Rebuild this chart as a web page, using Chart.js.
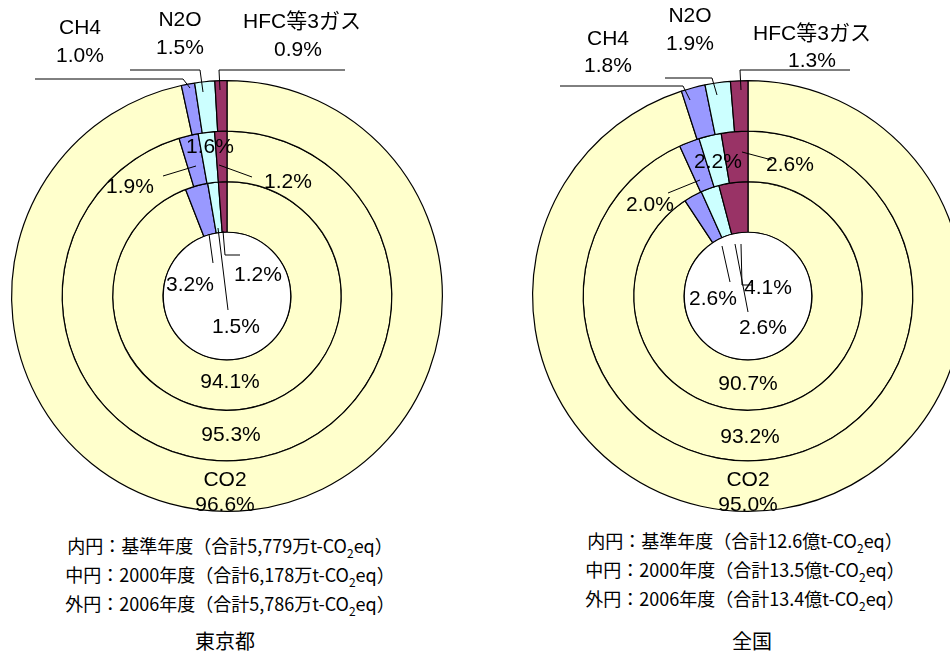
<!DOCTYPE html>
<html><head><meta charset="utf-8">
<script src="https://cdn.jsdelivr.net/npm/chart.js@4"></script>
<style>
body{margin:0;width:950px;height:655px;overflow:hidden;background:#fff;font-family:"Liberation Sans",Arial,"Noto Sans CJK JP",sans-serif;color:#000;position:relative}
canvas{position:absolute}
.t{position:absolute;font-size:21px;transform:translate(-50%,-50%);white-space:nowrap;line-height:1}
.cap{position:absolute;font-size:18px;line-height:1.2;transform:translateX(-50%);white-space:nowrap;font-family:"Noto Sans CJK JP",sans-serif}
.cap sub{font-size:12px}
.ttl{position:absolute;font-size:20px;transform:translate(-50%,-50%);font-family:"Noto Sans CJK JP",sans-serif}
</style></head><body>
<canvas id="tokyo" style="left:7px;top:36px"></canvas>
<canvas id="japan" style="left:528px;top:36px"></canvas>
<script>
// 順序: CO2, CH4, N2O, HFC等3ガス (時計回り)
const gases = ['CO2', 'CH4', 'N2O', 'HFC等3ガス'];
const colors = ['#FFFFCC', '#9999FF', '#CCFFFF', '#993366'];
const tokyo2006 = [96.6, 1.0, 1.5, 0.9];
const tokyo2000 = [95.3, 1.9, 1.6, 1.2];
const tokyoBase = [94.1, 3.2, 1.5, 1.2];
const japan2006 = [95.0, 1.8, 1.9, 1.3];
const japan2000 = [93.2, 2.0, 2.2, 2.6];
const japanBase = [90.7, 2.6, 2.6, 4.1];

// 引き出し線 (ページ座標)
const tokyoLeaders = [
  [[35,79],[183,79],[190,88]], [[130,70],[200,70],[203,92]], [[345,70],[219,70],[220,90]],
  [[163,176],[196,166]], [[252,177],[219,165]],
  [[213,263],[209,234]], [[228,310],[218,228]], [[240,255],[225,255],[223,231]]
];
const japanLeaders = [
  [[560,86],[683,86],[690,100]], [[665,78],[712,78],[717,95]], [[850,70],[740,70],[741,90]],
  [[668,193],[700,180]], [[772,160],[742,152]],
  [[730,282],[722,246]], [[748,312],[735,244]], [[752,285],[742,285],[741,244]]
];

function leaderPlugin(lines, ox, oy) {
  return {
    id: 'leaders',
    afterDraw(chart) {
      const ctx = chart.ctx;
      const arc = chart.getDatasetMeta(2).data[0];
      ctx.save();
      // 中央の白い円
      ctx.beginPath();
      ctx.arc(arc.x, arc.y, arc.innerRadius, 0, Math.PI * 2);
      ctx.fillStyle = '#fff';
      ctx.fill();
      ctx.strokeStyle = '#000';
      ctx.lineWidth = 1.2;
      ctx.stroke();
      ctx.lineWidth = 1;
      lines.forEach(l => {
        ctx.beginPath();
        l.forEach((p, i) => i ? ctx.lineTo(p[0] - ox, p[1] - oy) : ctx.moveTo(p[0] - ox, p[1] - oy));
        ctx.stroke();
      });
      ctx.restore();
    }
  };
}

function makeChart(id, outer, middle, inner, lines, ox, oy) {
  const cv = document.getElementById(id);
  cv.width = 440; cv.height = 480;
  cv.style.width = '440px'; cv.style.height = '480px';
  const ds = (d) => ({ data: d, backgroundColor: colors, borderColor: '#000', borderWidth: 1.2, borderAlign: 'center', spacing: 0 });
  new Chart(cv, {
    type: 'doughnut',
    data: { labels: gases, datasets: [ds(outer), ds(middle), ds(inner)] },
    options: {
      responsive: false, animation: false, cutout: '29.6%',
      layout: { padding: { top: 44, left: 4, right: 4, bottom: 4 } },
      plugins: { legend: { display: false }, tooltip: { enabled: false } }
    },
    plugins: [leaderPlugin(lines, ox, oy)]
  });
}

makeChart('tokyo', tokyo2006, tokyo2000, tokyoBase, tokyoLeaders, 7, 36);
makeChart('japan', japan2006, japan2000, japanBase, japanLeaders, 528, 36);

const labels = [
  ['CH4',80,26],['1.0%',80,54],['N2O',180,18],['1.5%',180,46],['HFC等3ガス',302,20],['0.9%',298,48],
  ['1.6%',210,145],['1.9%',130,185],['1.2%',288,180],['3.2%',190,283],['1.2%',258,273],['1.5%',236,325],
  ['94.1%',230,380],['95.3%',231,433],['CO2',225,478],['96.6%',225,503],
  ['CH4',608,37],['1.8%',608,64],['N2O',690,14],['1.9%',690,42],['HFC等3ガス',812,32],['1.3%',812,59],
  ['2.2%',718,160],['2.6%',790,163],['2.0%',650,203],['2.6%',713,297],['4.1%',768,286],['2.6%',763,326],
  ['90.7%',748,382],['93.2%',750,435],['CO2',748,478],['95.0%',748,503]
];
labels.forEach(([s, x, y]) => {
  const d = document.createElement('div');
  d.className = 't'; d.textContent = s;
  d.style.left = x + 'px'; d.style.top = y + 'px';
  document.body.appendChild(d);
});

const captions = [
  [230, 535, '内円：基準年度（合計5,779万t-CO<sub>2</sub>eq）'],
  [230, 564, '中円：2000年度（合計6,178万t-CO<sub>2</sub>eq）'],
  [230, 593, '外円：2006年度（合計5,786万t-CO<sub>2</sub>eq）'],
  [745, 530, '内円：基準年度（合計12.6億t-CO<sub>2</sub>eq）'],
  [745, 559, '中円：2000年度（合計13.5億t-CO<sub>2</sub>eq）'],
  [745, 588, '外円：2006年度（合計13.4億t-CO<sub>2</sub>eq）']
];
captions.forEach(([x, y, h]) => {
  const d = document.createElement('div');
  d.className = 'cap'; d.innerHTML = h;
  d.style.left = x + 'px'; d.style.top = y + 'px';
  document.body.appendChild(d);
});
[['東京都', 225, 640], ['全国', 752, 640]].forEach(([s, x, y]) => {
  const d = document.createElement('div');
  d.className = 'ttl'; d.textContent = s;
  d.style.left = x + 'px'; d.style.top = y + 'px';
  document.body.appendChild(d);
});
</script>
</body></html>
